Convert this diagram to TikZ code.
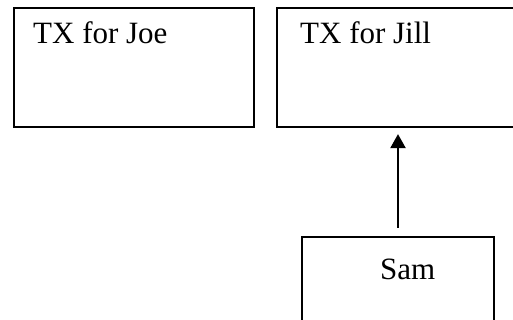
\documentclass[tikz,border=0pt]{standalone}
\usepackage{fontspec}
\setmainfont{Liberation Serif}
\usetikzlibrary{arrows.meta}
\begin{document}
\begin{tikzpicture}[x=1pt,y=-1pt,
  box/.style={draw, line width=2.2pt, rectangle, inner sep=0pt},
  lbl/.style={anchor=base west, inner sep=0pt, font=\fontsize{31}{33}\selectfont},
  conn/.style={line width=2.2pt, -{Triangle[length=14pt,width=15pt]}}]
\useasboundingbox (0,0) rectangle (513,320);
\clip (0,0) rectangle (513,320);
\node[box, minimum width=240pt, minimum height=119pt] (joe) at (134,67.5) {};
\node[box, minimum width=250pt, minimum height=119pt] (jill) at (402,67.5) {};
\node[box, minimum width=192pt, minimum height=119pt] (sam) at (398,296.5) {};
\node[lbl] (tjoe) at (33,44) {TX for Joe};
\node[lbl] (tjill) at (300,44) {TX for Jill};
\node[lbl] (tsam) at (380,279) {Sam};
\draw[conn, shorten <=8pt, shorten >=6pt] (sam.north) -- (sam.north |- jill.south);
\end{tikzpicture}
\end{document}
